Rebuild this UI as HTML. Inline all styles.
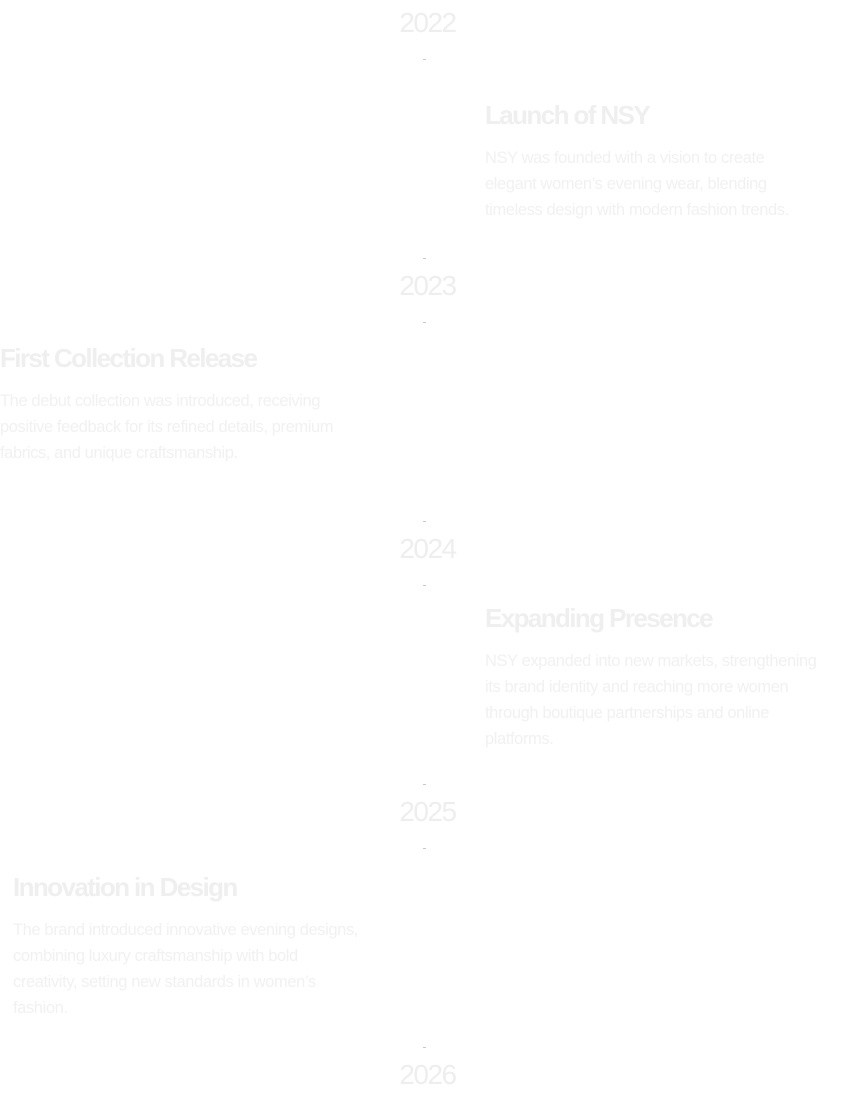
<!DOCTYPE html>
<html><head><meta charset="utf-8"><style>
body{margin:0;width:855px;height:1096px;background:#fff;position:relative;overflow:hidden;font-family:"Liberation Sans",sans-serif;}
.y{position:absolute;left:0;width:855px;text-align:center;font-size:28px;color:#eeeeee;letter-spacing:-1.5px;line-height:34px}
.d{position:absolute;left:423px;width:3px;height:1px;background:#c8c8c8}
.t{position:absolute;font-size:26px;font-weight:bold;color:#efefef;letter-spacing:-1.6px;line-height:32px;white-space:nowrap}
.p{position:absolute;font-size:16.5px;color:#f1f1f1;line-height:26px;letter-spacing:-0.4px;white-space:nowrap}
</style></head><body>
<div class="y" style="top:6px">2022</div>
<div class="d" style="top:59px"></div>
<div class="t" style="left:485px;top:99px">Launch of NSY</div>
<div class="p" style="left:485px;top:145px">NSY was founded with a vision to create<br>elegant women’s evening wear, blending<br>timeless design with modern fashion trends.</div>
<div class="d" style="top:258px"></div>
<div class="y" style="top:269px">2023</div>
<div class="d" style="top:322px"></div>
<div class="t" style="left:0;top:342px">First Collection Release</div>
<div class="p" style="left:0;top:388px">The debut collection was introduced, receiving<br>positive feedback for its refined details, premium<br>fabrics, and unique craftsmanship.</div>
<div class="d" style="top:521px"></div>
<div class="y" style="top:532px">2024</div>
<div class="d" style="top:585px"></div>
<div class="t" style="left:485px;top:602px">Expanding Presence</div>
<div class="p" style="left:485px;top:648px">NSY expanded into new markets, strengthening<br>its brand identity and reaching more women<br>through boutique partnerships and online<br>platforms.</div>
<div class="d" style="top:784px"></div>
<div class="y" style="top:795px">2025</div>
<div class="d" style="top:848px"></div>
<div class="t" style="left:13px;top:871px">Innovation in Design</div>
<div class="p" style="left:13px;top:917px">The brand introduced innovative evening designs,<br>combining luxury craftsmanship with bold<br>creativity, setting new standards in women’s<br>fashion.</div>
<div class="d" style="top:1047px"></div>
<div class="y" style="top:1058px">2026</div>
</body></html>
